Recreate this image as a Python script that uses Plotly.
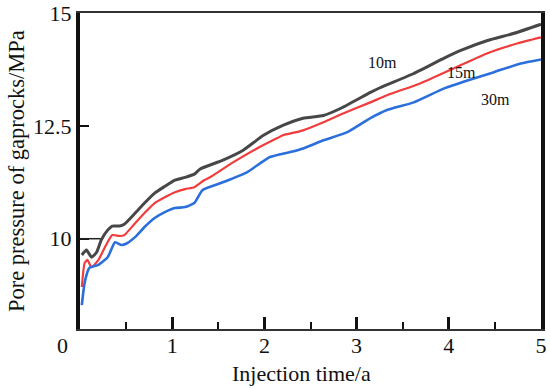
import plotly.graph_objects as go

# 10 m
t_10 = [0.02, 0.07, 0.125, 0.18, 0.23, 0.30, 0.35, 0.43, 0.48, 0.60, 0.70, 0.81, 0.92, 1.03, 1.14, 1.24, 1.30,
        1.55, 1.77, 1.99, 2.20, 2.42, 2.64, 2.83, 3.15, 3.26, 3.62, 3.95, 4.13, 4.42, 4.71, 5.0]
p_10 = [9.64, 9.75, 9.59, 9.70, 9.97, 10.19, 10.28, 10.28, 10.32, 10.57, 10.79, 11.01, 11.16, 11.30, 11.36, 11.43, 11.54,
        11.74, 11.96, 12.29, 12.51, 12.67, 12.73, 12.89, 13.24, 13.35, 13.66, 14.00, 14.17, 14.39, 14.55, 14.75]
# 15 m
t_15 = [0.02, 0.05, 0.08, 0.125, 0.20, 0.27, 0.35, 0.43, 0.48, 0.60, 0.70, 0.81, 0.92, 1.03, 1.14, 1.24, 1.35, 1.41,
        1.66, 1.92, 2.14, 2.20, 2.42, 2.64, 2.86, 3.15, 3.33, 3.69, 4.05, 4.42, 4.75, 5.0]
p_15 = [8.93, 9.46, 9.53, 9.37, 9.53, 9.81, 10.08, 10.06, 10.08, 10.35, 10.57, 10.79, 10.92, 11.03, 11.10, 11.14, 11.30, 11.36,
        11.69, 12.00, 12.23, 12.29, 12.40, 12.58, 12.78, 13.02, 13.18, 13.44, 13.77, 14.11, 14.33, 14.46]
# 30 m
t_30 = [0.02, 0.05, 0.10, 0.20, 0.30, 0.38, 0.45, 0.51, 0.60, 0.70, 0.81, 0.92, 1.03, 1.14, 1.24, 1.33,
        1.55, 1.81, 2.06, 2.28, 2.42, 2.64, 2.90, 3.15, 3.33, 3.62, 3.95, 4.21, 4.49, 4.78, 5.0]
p_30 = [8.53, 9.02, 9.35, 9.42, 9.59, 9.92, 9.86, 9.90, 10.04, 10.26, 10.46, 10.59, 10.68, 10.70, 10.79, 11.08,
        11.25, 11.47, 11.81, 11.92, 12.00, 12.18, 12.36, 12.67, 12.85, 13.02, 13.33, 13.51, 13.69, 13.88, 13.97]

series_names = ["10m", "15m", "30m"]
label_t = [3.28, 4.14, 4.51]
label_p = [13.91, 13.69, 13.09]
x_ticks = [1, 2, 3, 4, 5]
y_ticks = [10, 12.5, 15]

font_family = "Liberation Serif, Times New Roman, serif"

fig = go.Figure()
for t, p, name, color, w in [(t_10, p_10, series_names[0], "#474747", 3),
                              (t_15, p_15, series_names[1], "#f03c3c", 2.2),
                              (t_30, p_30, series_names[2], "#2a6fdb", 2.6)]:
    fig.add_trace(go.Scatter(x=t, y=p, mode="lines", name=name,
                             line=dict(color=color, width=w, shape="spline", smoothing=0.5)))

# curve labels
for name, lx, ly in zip(series_names, label_t, label_p):
    fig.add_annotation(x=lx, y=ly, text=name, showarrow=False,
                       font=dict(family=font_family, size=16, color="#111"))

# "0" label at origin (offset left as in reference)
fig.add_annotation(x=0, y=0, xref="x", yref="paper", text="0", showarrow=False,
                   xanchor="center", yanchor="middle",
                   xshift=-18, yshift=-16, font=dict(family=font_family, size=22, color="#111"))

# axis titles
fig.add_annotation(x=0, y=0.5, xref="paper", yref="paper", text="Pore pressure of gaprocks/MPa",
                   textangle=-90, showarrow=False, xshift=-64, xanchor="center", yanchor="middle",
                   font=dict(family=font_family, size=22.5, color="#111"))
fig.add_annotation(x=0.48, y=0, xref="paper", yref="paper", text="Injection time/a",
                   showarrow=False, yshift=-44, xanchor="center", yanchor="middle",
                   font=dict(family=font_family, size=22, color="#111"))

# long tick at y=10
fig.add_shape(type="line", xref="x domain", yref="y", x0=0, x1=0.045, y0=10, y1=10,
              line=dict(color="#222", width=1.5))

fig.update_layout(
    width=550, height=389,
    margin=dict(l=80, r=9, t=13, b=60),
    paper_bgcolor="white", plot_bgcolor="white",
    showlegend=False,
    font=dict(family=font_family, size=22, color="#111"),
)
fig.update_xaxes(range=[0, 5], tickvals=x_ticks, ticks="inside", ticklen=12, tickwidth=3,
                 tickcolor="#111", automargin=False, ticklabeloverflow="allow",
                 minor=dict(ticks="inside", ticklen=7, tickwidth=1.5, dtick=0.5, tick0=0, tickcolor="#111"),
                 showline=True, linewidth=2, linecolor="#333", mirror=True,
                 showgrid=False, zeroline=False, ticklabelstandoff=-4,
                 tickfont=dict(size=22))
fig.update_yaxes(range=[8, 15], tickvals=y_ticks, ticktext=["10", "12.5", "15"],
                 ticks="inside", ticklen=9, tickwidth=1.5, tickcolor="#111", automargin=False,
                 ticklabeloverflow="allow",
                 showline=True, linewidth=4, linecolor="#111", mirror=True,
                 showgrid=False, zeroline=False,
                 tickfont=dict(size=22))

fig.write_html("out.html", config={"displayModeBar": False},
               post_script="document.body.style.margin='0px';")
